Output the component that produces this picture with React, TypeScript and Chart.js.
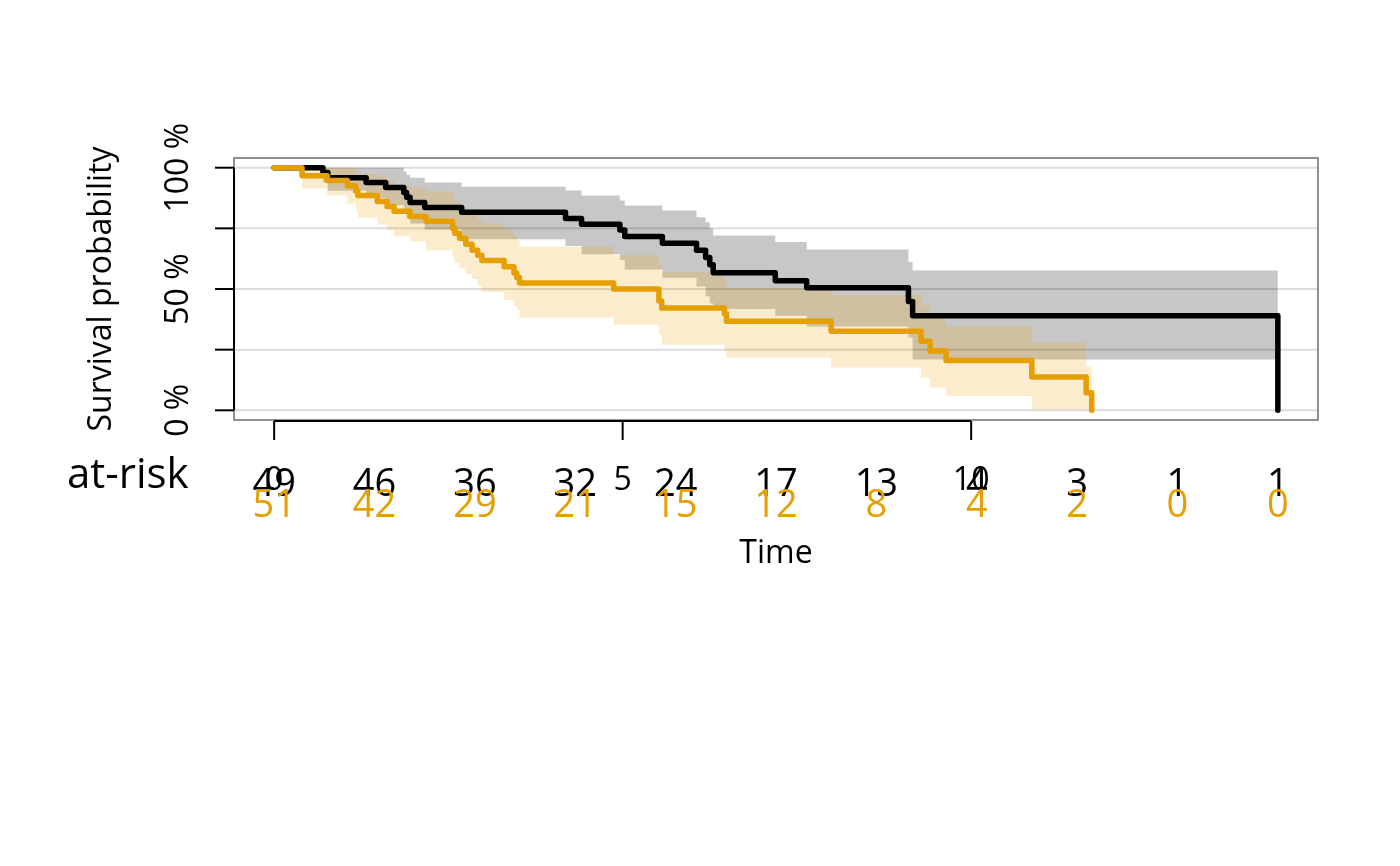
import React, { useEffect, useRef } from "react";
import { Chart, registerables } from "chart.js";

Chart.register(...registerables);

// ---------- data ----------
// Group A (black)
const timesA = [0, 0.7, 0.77, 1.32, 1.6, 1.86, 1.9, 1.95, 2.16, 2.69, 4.18, 4.41, 4.96, 5.03, 5.57, 6.06, 6.19, 6.25, 6.3, 7.19, 7.64, 9.1, 9.16, 14.4];
const survA = [1, 0.98, 0.959, 0.939, 0.918, 0.898, 0.878, 0.857, 0.836, 0.816, 0.791, 0.767, 0.743, 0.716, 0.689, 0.66, 0.63, 0.6, 0.567, 0.534, 0.505, 0.448, 0.39, 0];
const upperA = [1, 1, 1, 1, 1, 0.984, 0.971, 0.959, 0.939, 0.921, 0.906, 0.885, 0.865, 0.844, 0.824, 0.796, 0.775, 0.749, 0.721, 0.694, 0.663, 0.612, 0.576, 0.576];
const lowerA = [1, 0.941, 0.905, 0.874, 0.845, 0.82, 0.792, 0.77, 0.745, 0.705, 0.677, 0.643, 0.62, 0.58, 0.546, 0.51, 0.47, 0.44, 0.418, 0.39, 0.345, 0.3, 0.209, 0.209];

// Group B (orange)
const timesB = [0, 0.4, 0.76, 1.05, 1.17, 1.2, 1.48, 1.62, 1.72, 1.95, 2.18, 2.56, 2.59, 2.66, 2.75, 2.84, 2.92, 2.98, 3.3, 3.44, 3.48, 3.52, 4.87, 5.52, 5.56, 6.46, 6.49, 7.99, 9.28, 9.41, 9.64, 10.87, 11.65, 11.73];
const survB = [1, 0.967, 0.947, 0.926, 0.904, 0.885, 0.861, 0.84, 0.82, 0.799, 0.779, 0.75, 0.73, 0.709, 0.684, 0.66, 0.639, 0.617, 0.592, 0.566, 0.547, 0.525, 0.5, 0.451, 0.422, 0.398, 0.367, 0.326, 0.285, 0.244, 0.205, 0.137, 0.072, 0];
const upperB = [1, 1, 1, 1, 0.992, 0.975, 0.963, 0.947, 0.93, 0.918, 0.902, 0.877, 0.861, 0.844, 0.824, 0.807, 0.787, 0.77, 0.746, 0.721, 0.701, 0.674, 0.639, 0.602, 0.57, 0.537, 0.504, 0.475, 0.434, 0.377, 0.346, 0.279, 0.182, 0.182];
const lowerB = [1, 0.914, 0.885, 0.852, 0.824, 0.795, 0.766, 0.742, 0.717, 0.697, 0.66, 0.627, 0.607, 0.586, 0.561, 0.541, 0.516, 0.488, 0.455, 0.43, 0.414, 0.381, 0.352, 0.311, 0.27, 0.244, 0.217, 0.176, 0.135, 0.094, 0.059, 0.004, 0.004, 0.004];

// At-risk table
const riskTimes = [0, 1.44, 2.88, 4.32, 5.76, 7.2, 8.64, 10.08, 11.52, 12.96, 14.4];
const riskA = [49, 46, 36, 32, 24, 17, 13, 4, 3, 1, 1];
const riskB = [51, 42, 29, 21, 15, 12, 8, 4, 2, 0, 0];

// Axes
const xTicks = [0, 5, 10];
const xTickLabels = ["0", "5", "10"];
const yTicks = [0, 0.25, 0.5, 0.75, 1];
const yTickLabels = ["0 %", "", "50 %", "", "100 %"];

const colA = "#000000";
const colB = "#E69F00";
const FONT = "'Open Sans', 'Noto Sans', sans-serif";

const pts = (ts: number[], vs: number[]) => ts.map((t, i) => ({ x: t, y: vs[i] }));

const decorPlugin = {
  id: "kmDecor",
  beforeDatasetsDraw(chart: any) {
    const { ctx, chartArea: a, scales } = chart;
    const ys = scales.y;
    ctx.save();
    ctx.strokeStyle = "#dcdcdc";
    ctx.lineWidth = 2;
    for (const v of yTicks) {
      const p = ys.getPixelForValue(v);
      ctx.beginPath();
      ctx.moveTo(a.left, p);
      ctx.lineTo(a.right, p);
      ctx.stroke();
    }
    ctx.restore();
  },
  afterDraw(chart: any) {
    const { ctx, chartArea: a, scales } = chart;
    const xs = scales.x;
    const ys = scales.y;
    ctx.save();
    // box
    ctx.strokeStyle = "#6e6e6e";
    ctx.lineWidth = 1.5;
    ctx.strokeRect(a.left, a.top, a.right - a.left, a.bottom - a.top);

    // y axis
    ctx.strokeStyle = "#000";
    ctx.lineWidth = 2;
    ctx.beginPath();
    ctx.moveTo(a.left, ys.getPixelForValue(0));
    ctx.lineTo(a.left, ys.getPixelForValue(1));
    ctx.stroke();
    for (const v of yTicks) {
      const p = ys.getPixelForValue(v);
      ctx.beginPath();
      ctx.moveTo(a.left - 19, p);
      ctx.lineTo(a.left, p);
      ctx.stroke();
    }
    // x axis
    const xb = a.bottom + 1;
    ctx.beginPath();
    ctx.moveTo(xs.getPixelForValue(xTicks[0]), xb);
    ctx.lineTo(xs.getPixelForValue(xTicks[xTicks.length - 1]), xb);
    ctx.stroke();
    for (const v of xTicks) {
      const p = xs.getPixelForValue(v);
      ctx.beginPath();
      ctx.moveTo(p, xb);
      ctx.lineTo(p, xb + 19);
      ctx.stroke();
    }

    ctx.fillStyle = "#000";
    // y tick labels (rotated)
    ctx.font = `32px ${FONT}`;
    ctx.textAlign = "center";
    ctx.textBaseline = "alphabetic";
    yTicks.forEach((v, i) => {
      if (!yTickLabels[i]) return;
      const p = ys.getPixelForValue(v);
      ctx.save();
      ctx.translate(188, p);
      ctx.rotate(-Math.PI / 2);
      ctx.fillText(yTickLabels[i], 0, 0);
      ctx.restore();
    });
    // y axis title
    ctx.save();
    ctx.translate(111, (a.top + a.bottom) / 2);
    ctx.rotate(-Math.PI / 2);
    ctx.fillText("Survival probability", 0, 0);
    ctx.restore();

    // x tick labels
    xTicks.forEach((v, i) => {
      ctx.fillText(xTickLabels[i], xs.getPixelForValue(v), 489.5);
    });
    // x title
    ctx.fillText("Time", (a.left + a.right) / 2, 563);

    // at-risk table
    ctx.font = `42px ${FONT}`;
    ctx.textAlign = "left";
    ctx.fillText("at-risk", 67, 488.3);
    ctx.font = `38px ${FONT}`;
    ctx.textAlign = "center";
    riskTimes.forEach((t, i) => {
      const p = xs.getPixelForValue(t);
      ctx.fillStyle = colA;
      ctx.fillText(String(riskA[i]), p, 496);
    });
    riskTimes.forEach((t, i) => {
      const p = xs.getPixelForValue(t);
      ctx.fillStyle = colB;
      ctx.fillText(String(riskB[i]), p, 517);
    });
    ctx.restore();
  },
};

export default function App() {
  const ref = useRef<HTMLCanvasElement | null>(null);
  useEffect(() => {
    if (!ref.current) return;
    const band = (data: any, color: string, fill: any, order: number) => ({
      data,
      fill,
      backgroundColor: color,
      borderColor: "transparent",
      borderWidth: 0,
      pointRadius: 0,
      stepped: true,
      order,
    });
    const chart = new Chart(ref.current, {
      type: "line",
      data: {
        datasets: [
          band(pts(timesA, upperA), "rgba(0,0,0,0.22)", "+1", 3),
          band(pts(timesA, lowerA), "transparent", false, 3),
          band(pts(timesB, upperB), "rgba(230,159,0,0.2)", "+1", 2),
          band(pts(timesB, lowerB), "transparent", false, 2),
          {
            data: pts(timesA, survA),
            borderColor: colA,
            borderWidth: 5.5,
            pointRadius: 0,
            stepped: true,
            fill: false,
            borderCapStyle: "round",
            borderJoinStyle: "round",
            order: 1,
          } as any,
          {
            data: pts(timesB, survB),
            borderColor: colB,
            borderWidth: 5.5,
            pointRadius: 0,
            stepped: true,
            fill: false,
            borderCapStyle: "round",
            borderJoinStyle: "round",
            order: 0,
          } as any,
        ],
      },
      options: {
        animation: false,
        responsive: false,
        devicePixelRatio: 1,
        layout: { padding: { left: 234, right: 82, top: 158, bottom: 446 } },
        plugins: { legend: { display: false }, tooltip: { enabled: false } },
        events: [],
        scales: {
          x: { type: "linear", min: -0.576, max: 14.976, display: false },
          y: { type: "linear", min: -0.04, max: 1.04, display: false },
        },
      },
      plugins: [decorPlugin],
    });
    return () => chart.destroy();
  }, []);
  return (
    <div style={{ position: "absolute", left: 0, top: 0, width: 1400, height: 866, background: "#fff" }}>
      <canvas ref={ref} width={1400} height={866} style={{ width: 1400, height: 866, display: "block" }} />
    </div>
  );
}
